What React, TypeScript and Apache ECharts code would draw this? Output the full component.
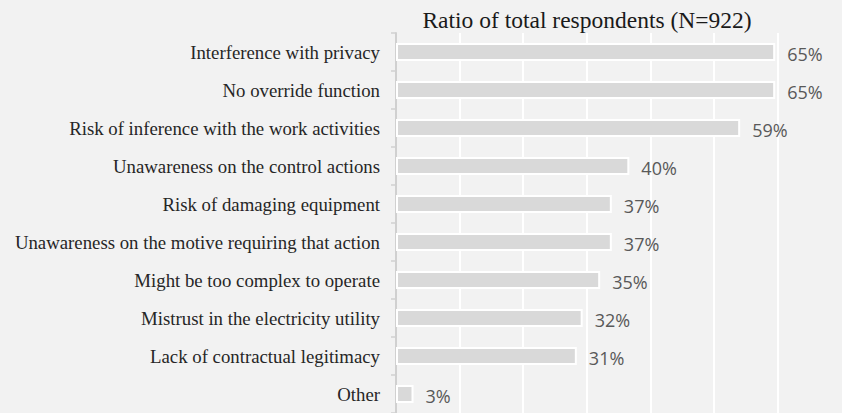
import React, { useEffect, useRef } from "react";
import * as echarts from "echarts";

const categories = [
  "Interference with privacy",
  "No override function",
  "Risk of inference with the work activities",
  "Unawareness on the control actions",
  "Risk of damaging equipment",
  "Unawareness on the motive requiring that action",
  "Might be too complex to operate",
  "Mistrust in the electricity utility",
  "Lack of contractual legitimacy",
  "Other",
];
const values = [65, 65, 59, 40, 37, 37, 35, 32, 31, 3];
const titleText = "Ratio of total respondents (N=922)";

export default function App() {
  const ref = useRef<HTMLDivElement>(null);
  useEffect(() => {
    if (!ref.current) return;
    const chart = echarts.init(ref.current, null, { renderer: "svg" });
    chart.setOption({
      animation: false,
      backgroundColor: "#f2f2f2",
      title: {
        text: titleText,
        left: 582,
        textAlign: "center",
        top: 3,
        textStyle: {
          fontFamily: "Liberation Serif",
          fontSize: 23.5,
          fontWeight: "normal",
          color: "#1a1a1a",
        },
      },
      grid: { left: 396, right: 64.5, top: 33, bottom: -6.5, containLabel: false },
      xAxis: {
        type: "value",
        min: 0,
        max: 65.4,
        interval: 10.9,
        axisLabel: { show: false },
        axisLine: { show: false },
        axisTick: { show: false },
        splitLine: { show: true, lineStyle: { color: "#ffffff", width: 2 } },
      },
      yAxis: {
        type: "category",
        data: categories,
        inverse: true,
        axisLine: { show: true, lineStyle: { color: "#d0d0d0", width: 2 } },
        axisTick: { show: true, length: 5, lineStyle: { color: "#d0d0d0", width: 1.5 } },
        axisLabel: {
          margin: 16,
          fontFamily: "Liberation Serif",
          fontSize: 18.8,
          color: "#262626",
        },
        splitLine: { show: false },
      },
      series: [
        {
          type: "bar",
          data: values,
          barWidth: 18,
          itemStyle: { color: "#d9d9d9", borderColor: "#ffffff", borderWidth: 2 },
          label: {
            show: true,
            position: "right",
            distance: 12,
            offset: [0, 2],
            formatter: "{c}%",
            fontFamily: "Open Sans",
            fontSize: 18,
            color: "#595959",
          },
        },
      ],
    });
    return () => chart.dispose();
  }, []);
  return (
    <div
      ref={ref}
      style={{ position: "fixed", left: 0, top: 0, width: 842, height: 413 }}
    />
  );
}
